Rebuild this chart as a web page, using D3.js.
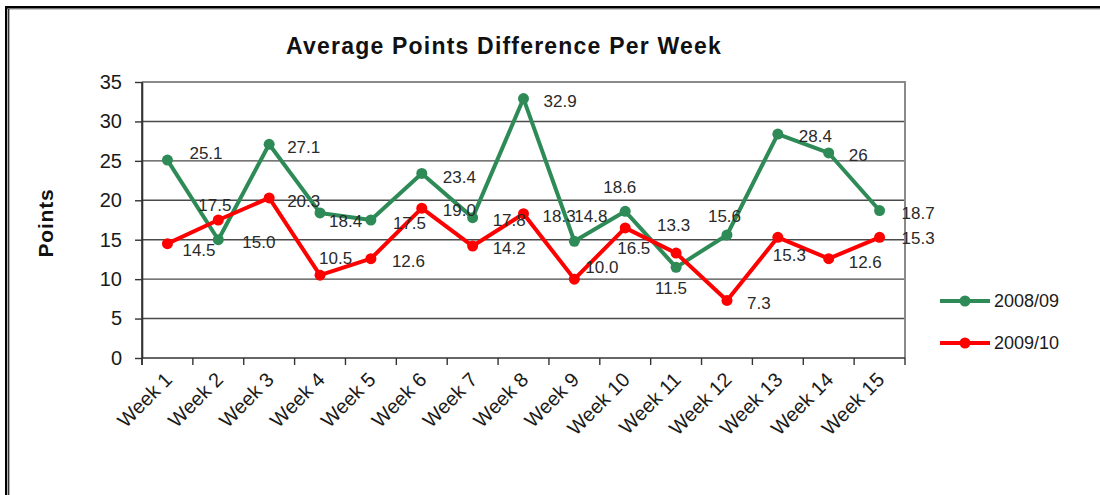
<!DOCTYPE html>
<html>
<head>
<meta charset="utf-8">
<script src="https://cdn.jsdelivr.net/npm/d3@7"></script>
<style>
  html, body { margin: 0; padding: 0; background: #fff; }
  svg { display: block; font-family: Arial, "Liberation Sans", sans-serif; }
</style>
</head>
<body>
<svg id="chart" width="1100" height="495"></svg>
<script>
// ---- data ----
const weeks = ["Week 1","Week 2","Week 3","Week 4","Week 5","Week 6","Week 7","Week 8",
               "Week 9","Week 10","Week 11","Week 12","Week 13","Week 14","Week 15"];
const values0809 = [25.1, 15.0, 27.1, 18.4, 17.5, 23.4, 17.8, 32.9, 14.8, 18.6, 11.5, 15.6, 28.4, 26.0, 18.7];
const values0910 = [14.5, 17.5, 20.3, 10.5, 12.6, 19.0, 14.2, 18.3, 10.0, 16.5, 13.3, 7.3, 15.3, 12.6, 15.3];
const labels0809 = ["25.1","15.0","27.1","18.4","17.5","23.4","17.8","32.9","14.8","18.6","11.5","15.6","28.4","26","18.7"];
const labels0910 = ["14.5","17.5","20.3","10.5","12.6","19.0","14.2","18.3","10.0","16.5","13.3","7.3","15.3","12.6","15.3"];
const seriesNames = ["2008/09", "2009/10"];
const yTicks = [0, 5, 10, 15, 20, 25, 30, 35];
const title = "Average Points Difference Per Week";
const yTitle = "Points";

// ---- label placement (layout only: offset of label start / middle from its point) ----
const labelOffsets0809 = [[22,-7],[24,2],[18,3],[9,8],[22,3],[21,3],[20,2],[20,2],
                          [0,-25],[-22,-24],[-21,21],[-19,-19],[21,2],[20,2],[22,2]];
const labelOffsets0910 = [[15,6],[-20,-15],[18,3],[-1,-17],[21,2],[21,2],[20,2],[19,2],
                          [11,-12],[-8,20],[-19,-28],[20,2],[-5,18],[20,3],[22,1]];

const colors = ["#2e8b57", "#ff0000"];

const svg = d3.select("#chart");

// frame
svg.append("rect").attr("x", 5).attr("y", 6).attr("width", 1095).attr("height", 2.6).attr("fill", "#000");
svg.append("line").attr("x1", 8).attr("x2", 1100).attr("y1", 9.3).attr("y2", 9.3).attr("stroke", "#bbb").attr("stroke-width", 1);
svg.append("rect").attr("x", 5).attr("y", 6).attr("width", 2.3).attr("height", 489).attr("fill", "#000");
svg.append("rect").attr("x", 8.2).attr("y", 9).attr("width", 1.1).attr("height", 486).attr("fill", "#000");

const plot = { left: 142, right: 905, top: 82, bottom: 358 };

const x = d3.scaleBand().domain(weeks).range([plot.left, plot.right]).padding(0);
const y = d3.scaleLinear().domain([0, 35]).range([plot.bottom, plot.top]);
const cx = d => x(d) + x.bandwidth() / 2;

// gridlines
svg.append("g").selectAll("line").data(yTicks.filter(t => t > 0 && t < 35)).join("line")
  .attr("x1", plot.left).attr("x2", plot.right)
  .attr("y1", d => y(d)).attr("y2", d => y(d))
  .attr("stroke", "#4a4a4a").attr("stroke-width", 1.4);

// plot border top/right
svg.append("path")
  .attr("d", `M${plot.left},${y(35)}H${plot.right}V${plot.bottom}`)
  .attr("fill", "none").attr("stroke", "#8a8a8a").attr("stroke-width", 2);

// y axis
const yAxis = d3.axisLeft(y).tickValues(yTicks).tickSize(7).tickPadding(13).tickSizeOuter(0);
const gy = svg.append("g").attr("transform", `translate(${plot.left},0)`).call(yAxis);
gy.select(".domain").attr("stroke", "#333").attr("stroke-width", 1.6);
gy.selectAll(".tick line").attr("stroke", "#333").attr("stroke-width", 1.4);
gy.selectAll(".tick text").attr("font-size", 20).attr("fill", "#1a1a1a")
  .attr("font-family", "Arial, 'Liberation Sans', sans-serif");

// x axis line + ticks at band edges
svg.append("line").attr("x1", plot.left).attr("x2", plot.right)
  .attr("y1", plot.bottom).attr("y2", plot.bottom)
  .attr("stroke", "#333").attr("stroke-width", 1.6);
const edges = weeks.map(w => x(w)).concat([plot.right]);
svg.append("g").selectAll("line").data(edges).join("line")
  .attr("x1", d => d).attr("x2", d => d)
  .attr("y1", plot.bottom).attr("y2", plot.bottom + 7)
  .attr("stroke", "#333").attr("stroke-width", 1.4);
svg.append("line").attr("x1", plot.left).attr("x2", plot.left)
  .attr("y1", plot.top).attr("y2", plot.bottom + 7)
  .attr("stroke", "#333").attr("stroke-width", 1.6);

// x labels
svg.append("g").selectAll("text").data(weeks).join("text")
  .attr("transform", d => `translate(${cx(d) + 6},${plot.bottom + 23}) rotate(-45)`)
  .attr("text-anchor", "end")
  .attr("font-size", 20).attr("fill", "#1a1a1a")
  .text(d => d);

// title
svg.append("text").attr("x", 504).attr("y", 54).attr("text-anchor", "middle")
  .attr("font-size", 23).attr("font-weight", "bold").attr("letter-spacing", 1.2)
  .attr("fill", "#111").text(title);

// y title
svg.append("text").attr("transform", "translate(53,223) rotate(-90)")
  .attr("text-anchor", "middle").attr("font-size", 21).attr("font-weight", "bold")
  .attr("letter-spacing", 0.8)
  .attr("fill", "#111").text(yTitle);

// series
const allSeries = [
  { values: values0809, labels: labels0809, offsets: labelOffsets0809, color: colors[0] },
  { values: values0910, labels: labels0910, offsets: labelOffsets0910, color: colors[1] }
];
const line = d3.line().x((d, i) => cx(weeks[i])).y(d => y(d));

allSeries.forEach(s => {
  svg.append("path").datum(s.values).attr("d", line)
    .attr("fill", "none").attr("stroke", s.color).attr("stroke-width", 4)
    .attr("stroke-linejoin", "round");
  svg.append("g").selectAll("circle").data(s.values).join("circle")
    .attr("cx", (d, i) => cx(weeks[i])).attr("cy", d => y(d)).attr("r", 5.5)
    .attr("fill", s.color);
});
allSeries.forEach(s => {
  svg.append("g").selectAll("text").data(s.values).join("text")
    .attr("x", (d, i) => cx(weeks[i]) + s.offsets[i][0])
    .attr("y", (d, i) => y(d) + s.offsets[i][1])
    .attr("dy", "0.36em")
    .attr("font-size", 17).attr("fill", "#2a2a2a")
    .text((d, i) => s.labels[i]);
});

// legend
const legendY = [301, 343];
seriesNames.forEach((name, i) => {
  const g = svg.append("g");
  g.append("line").attr("x1", 940).attr("x2", 990).attr("y1", legendY[i]).attr("y2", legendY[i])
    .attr("stroke", colors[i]).attr("stroke-width", 4);
  g.append("circle").attr("cx", 965).attr("cy", legendY[i]).attr("r", 5.5).attr("fill", colors[i]);
  g.append("text").attr("x", 994).attr("y", legendY[i]).attr("dy", "0.36em")
    .attr("font-size", 18).attr("fill", "#1a1a1a").text(name);
});
</script>
</body>
</html>
